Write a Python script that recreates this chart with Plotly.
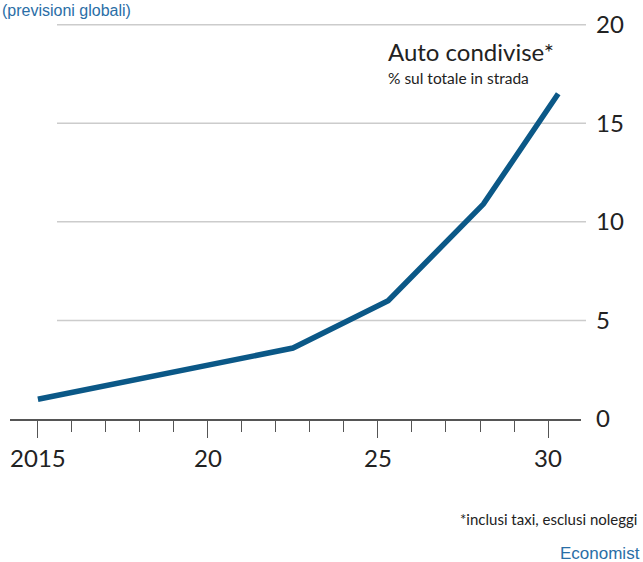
import plotly.graph_objects as go

# Shared cars as a share of all cars on the road
years = [2015, 2022.5, 2025.3, 2028.1, 2030.3]
share = [1.0, 3.6, 6.0, 10.9, 16.5]

x_major = [2015, 2020, 2025, 2030]
x_major_labels = ["2015", "20", "25", "30"]
y_ticks = [0, 5, 10, 15, 20]
y_grid = [5, 10, 15, 20]

W, H = 643, 562
ML, MR, MT, MB = 10, 62, 5, 143
PW, PH = W - ML - MR, H - MT - MB

LINE = "#0b5887"
BLUE_TXT = "#2a6ea6"
INK = "#222222"
FONT = "Lato"


def px_x(x):
    return (x - ML) / PW


def px_y(y):
    return (H - MB - y) / PH


fig = go.Figure()
fig.add_trace(go.Scatter(
    x=years, y=share, mode="lines",
    line=dict(color=LINE, width=5.5),
    hoverinfo="skip", showlegend=False,
))

# horizontal gridlines
for g in y_grid:
    fig.add_shape(type="line", xref="paper", yref="y",
                  x0=px_x(57), x1=px_x(586), y0=g, y1=g,
                  line=dict(color="#cccccc", width=1.5), layer="below")

fig.update_layout(
    width=W, height=H,
    margin=dict(l=ML, r=MR, t=MT, b=MB),
    paper_bgcolor="white", plot_bgcolor="white",
    font=dict(family=FONT, color=INK),
    xaxis=dict(
        range=[2014.18, 2030.97],
        tickvals=x_major, ticktext=x_major_labels,
        ticks="outside", ticklen=17, tickwidth=1.3, tickcolor="#555555",
        showline=True, linecolor="#555555", linewidth=1.5,
        showgrid=False, zeroline=False,
        tickfont=dict(size=24, family=FONT, color=INK),
        minor=dict(dtick=1, tick0=2015, ticks="outside", ticklen=11,
                   tickwidth=1.3, tickcolor="#555555", showgrid=False),
        fixedrange=True,
    ),
    yaxis=dict(
        range=[0, 21], side="right",
        tickvals=y_ticks, ticktext=[str(v) for v in y_ticks],
        ticks="", showgrid=False, zeroline=False, showline=False,
        ticklabelstandoff=14,
        tickfont=dict(size=24, family=FONT, color=INK),
        fixedrange=True,
    ),
    annotations=[
        dict(text="(previsioni globali)", xref="paper", yref="paper",
             x=px_x(0), xanchor="left",
             y=px_y(0), yanchor="top",
             showarrow=False, font=dict(size=16, family="Liberation Sans", color=BLUE_TXT)),
        dict(text="Auto condivise*", xref="paper", yref="paper",
             x=px_x(386), xanchor="left",
             y=px_y(51), yanchor="middle",
             showarrow=False, font=dict(size=24, family=FONT, color=INK)),
        dict(text="% sul totale in strada", xref="paper", yref="paper",
             x=px_x(386), xanchor="left",
             y=px_y(78), yanchor="middle",
             showarrow=False, font=dict(size=15.5, family=FONT, color=INK)),
        dict(text="*inclusi taxi, esclusi noleggi", xref="paper", yref="paper",
             x=px_x(639), xanchor="right",
             y=px_y(519), yanchor="middle",
             showarrow=False, font=dict(size=15, family=FONT, color=INK)),
        dict(text="Economist", xref="paper", yref="paper",
             x=px_x(642), xanchor="right",
             y=px_y(553), yanchor="middle",
             showarrow=False, font=dict(size=17, family="Liberation Sans", color=BLUE_TXT)),
    ],
)

fig.write_html("out.html")
